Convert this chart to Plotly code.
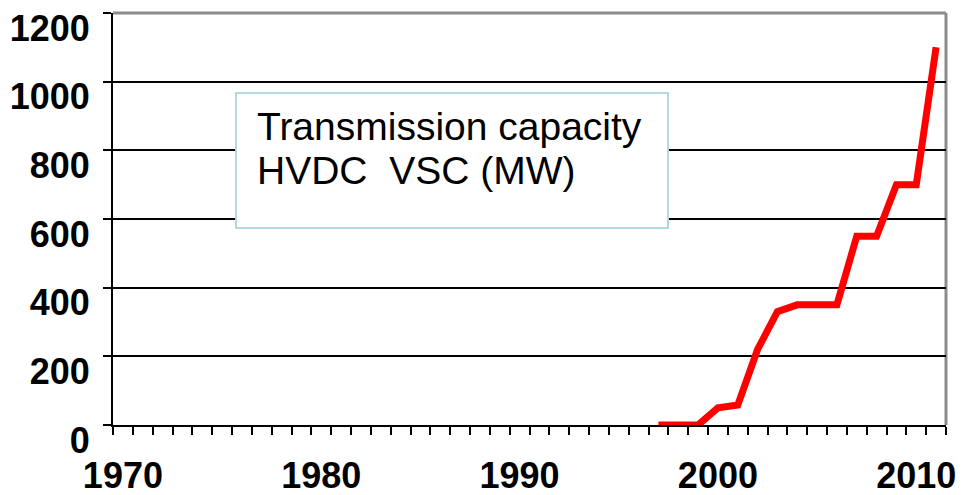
import plotly.graph_objects as go

# HVDC VSC transmission capacity (MW) per year
years = [1997, 1998, 1999, 2000, 2001, 2002, 2003, 2004, 2005, 2006,
         2007, 2008, 2009, 2010, 2011]
capacity_mw = [0, 0, 0, 50, 58, 220, 330, 350, 350, 350,
               550, 550, 700, 700, 1100]

# axis categories (one per year) and labels
axis_years = list(range(1970, 2012))
decade_ticks = [1970, 1980, 1990, 2000, 2010]
decade_labels = ['1970', '1980', '1990', '2000', '2010']
y_ticks = [0, 200, 400, 600, 800, 1000, 1200]

box_lines = ['Transmission capacity', 'HVDC\u00a0 VSC (MW)']

tick_font = dict(family='Liberation Sans, Arial', size=36, color='black',
                 weight='bold')

fig = go.Figure()

fig.add_trace(go.Scatter(
    x=years,
    y=capacity_mw,
    mode='lines',
    line=dict(color='#ff0000', width=7),
    hoverinfo='x+y',
    showlegend=False,
))

fig.update_xaxes(
    range=[axis_years[0] - 0.5, axis_years[-1] + 0.5],
    tickmode='array',
    tickvals=decade_ticks,
    ticktext=decade_labels,
    ticks='',
    ticklabelstandoff=18,
    ticklabeloverflow='allow',
    automargin=False,
    tickfont=tick_font,
    showgrid=False,
    zeroline=False,
    showline=True,
    linecolor='black',
    linewidth=2,
    layer='below traces',
    minor=dict(
        tickmode='array',
        tickvals=[y - 0.5 for y in axis_years] + [axis_years[-1] + 0.5],
        ticks='outside',
        ticklen=8,
        tickwidth=2,
        tickcolor='black',
        showgrid=False,
    ),
)

fig.update_yaxes(
    range=[0, 1200],
    tickmode='array',
    tickvals=y_ticks,
    ticks='outside',
    ticklen=8,
    tickwidth=2,
    tickcolor='black',
    tickfont=tick_font,
    ticklabelshift=15,
    ticklabelstandoff=6,
    ticklabeloverflow='allow',
    automargin=False,
    showgrid=True,
    gridcolor='black',
    gridwidth=2,
    zeroline=False,
    showline=True,
    linecolor='black',
    linewidth=2,
    layer='below traces',
)

# gray plot-area border on top and right
fig.add_shape(type='line', xref='paper', yref='paper', x0=0, x1=1, y0=1, y1=1,
              line=dict(color='#8c8c8c', width=3), layer='above')
fig.add_shape(type='line', xref='paper', yref='paper', x0=1, x1=1, y0=0, y1=1,
              line=dict(color='#8c8c8c', width=3), layer='below')

# text box
fig.add_shape(type='rect', xref='paper', yref='paper',
              x0=0.1477, x1=0.6663, y0=0.478, y1=0.806,
              line=dict(color='#b4d9dd', width=2),
              fillcolor='white', layer='above')

for i, line_text in enumerate(box_lines):
    fig.add_annotation(
        xref='paper', yref='paper',
        x=0.1705, y=0.7257 - i * 0.109,
        xanchor='left', yanchor='middle',
        text=line_text,
        showarrow=False,
        font=dict(family='Liberation Sans, Arial', size=39, color='black'),
    )

fig.update_layout(
    width=963,
    height=495,
    margin=dict(l=113, r=17, t=13, b=70),
    paper_bgcolor='white',
    plot_bgcolor='white',
)

fig.write_html("out.html", config={'displayModeBar': False},
               post_script="document.body.style.margin='0';")
